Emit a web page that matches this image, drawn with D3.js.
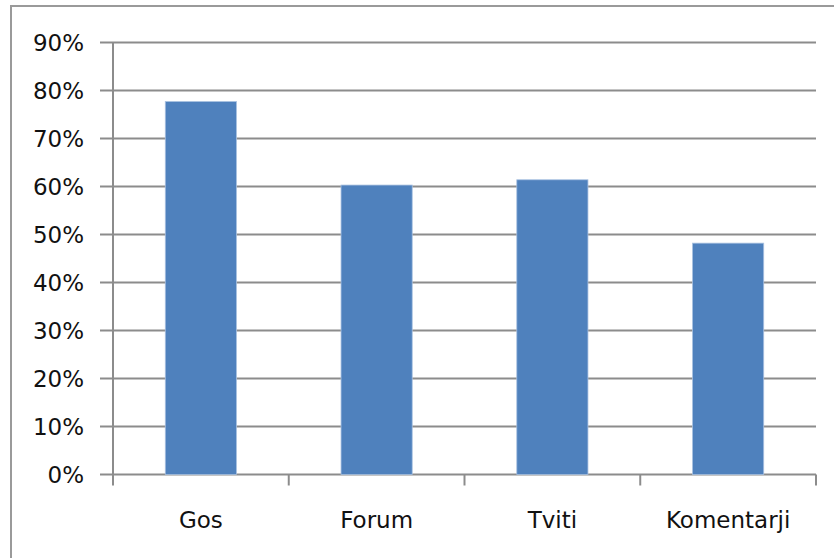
<!DOCTYPE html>
<html>
<head>
<meta charset="utf-8">
<script src="https://cdn.jsdelivr.net/npm/d3@7"></script>
<style>
  html, body { margin: 0; padding: 0; background: #fff; }
  svg { display: block; }
  text { font-family: "DejaVu Sans", sans-serif; fill: #111; }
</style>
</head>
<body>
<svg id="chart" width="834" height="558"></svg>
<script>
const categories = ["Gos", "Forum", "Tviti", "Komentarji"];
const values = [0.777, 0.603, 0.614, 0.482];
const yTicks = [0, 0.1, 0.2, 0.3, 0.4, 0.5, 0.6, 0.7, 0.8, 0.9];

const W = 834, H = 558;
const svg = d3.select("#chart");

// outer chart frame
svg.append("path")
  .attr("d", `M11,${H + 2} L11,6 L${W + 2},6`)
  .attr("fill", "none")
  .attr("stroke", "#9a9a9a")
  .attr("stroke-width", 2);

const plotLeft = 113, plotRight = 816, plotTop = 42.5, plotBottom = 474.5;

const y = d3.scaleLinear().domain([0, 0.9]).range([plotBottom, plotTop]);
const x = d3.scaleBand().domain(categories).range([plotLeft, plotRight])
  .paddingInner(0.595).paddingOuter(0.2975);

// gridlines with outward ticks
svg.append("g").selectAll("line").data(yTicks).join("line")
  .attr("x1", plotLeft - 13).attr("x2", plotRight)
  .attr("y1", d => y(d)).attr("y2", d => y(d))
  .attr("stroke", "#8c8c8c").attr("stroke-width", 2);

// y tick labels
svg.append("g").selectAll("text").data(yTicks).join("text")
  .attr("x", 84).attr("y", d => y(d))
  .attr("text-anchor", "end")
  .attr("dominant-baseline", "central")
  .style("font-size", "23px")
  .text(d3.format(".0%"));

// vertical axis line
svg.append("line")
  .attr("x1", plotLeft).attr("x2", plotLeft)
  .attr("y1", plotTop).attr("y2", plotBottom + 11)
  .attr("stroke", "#8c8c8c").attr("stroke-width", 2);

// category boundary ticks
const boundaries = d3.range(categories.length + 1).map(i => x.range()[0] + i * x.step());
svg.append("g").selectAll("line").data(boundaries.slice(1)).join("line")
  .attr("x1", d => d).attr("x2", d => d)
  .attr("y1", plotBottom).attr("y2", plotBottom + 11)
  .attr("stroke", "#8c8c8c").attr("stroke-width", 2);

// bars
svg.append("g").selectAll("rect").data(categories).join("rect")
  .attr("x", d => x(d))
  .attr("width", x.bandwidth())
  .attr("y", (d, i) => y(values[i]))
  .attr("height", (d, i) => y(0) - y(values[i]))
  .attr("fill", "#4f81bd")
  .attr("stroke", "#a9c1e0")
  .attr("stroke-width", 0.8);

// category labels
svg.append("g").selectAll("text").data(categories).join("text")
  .attr("x", d => x(d) + x.bandwidth() / 2)
  .attr("y", 528)
  .attr("text-anchor", "middle")
  .style("font-size", "23px")
  .text(d => d);
</script>
</body>
</html>
